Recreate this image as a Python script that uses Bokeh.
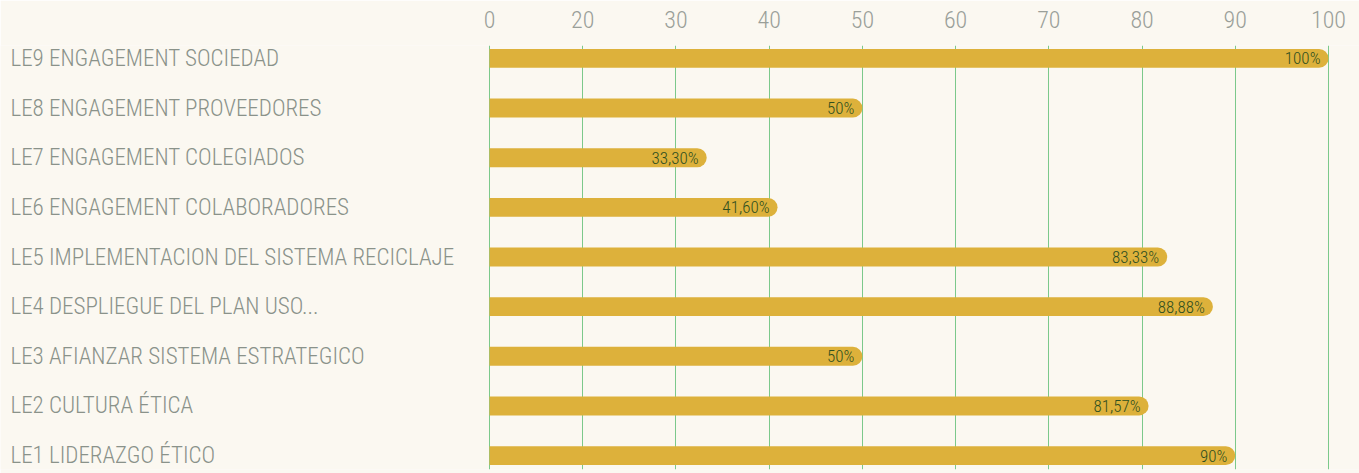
from bokeh.plotting import figure
from bokeh.models import Range1d, LinearAxis, FixedTicker, ColumnDataSource
from bokeh.core.properties import value
from bokeh.embed import file_html
from bokeh.resources import INLINE

categories = [
    "LE9 ENGAGEMENT SOCIEDAD",
    "LE8 ENGAGEMENT PROVEEDORES",
    "LE7 ENGAGEMENT COLEGIADOS",
    "LE6 ENGAGEMENT COLABORADORES",
    "LE5 IMPLEMENTACION DEL SISTEMA RECICLAJE",
    "LE4 DESPLIEGUE DEL PLAN USO...",
    "LE3 AFIANZAR SISTEMA ESTRATEGICO",
    "LE2 CULTURA ÉTICA",
    "LE1 LIDERAZGO ÉTICO",
]
bar_values = [100, 50, 33.3, 40.9, 82.7, 87.6, 50, 80.7, 90]
value_labels = ["100%", "50%", "33,30%", "41,60%", "83,33%", "88,88%", "50%", "81,57%", "90%"]
tick_values = [10, 20, 30, 40, 50, 60, 70, 80, 90, 100]
tick_labels = ["0", "20", "30", "40", "50", "60", "70", "80", "90", "100"]

W, H = 1359, 473
AXIS_START, AXIS_END = 10, 100
PX0, PX1 = 489, 1328
ppu = (PX1 - PX0) / (AXIS_END - AXIS_START)
x_lo = AXIS_START - PX0 / ppu
x_hi = AXIS_END + (W - PX1) / ppu
label_x = x_lo + 10 / ppu

n = len(categories)
ys = [n - i for i in range(n)]

BG = "#FBF8F1"
p = figure(width=W, height=H, output_backend="svg", toolbar_location=None,
           x_range=Range1d(x_lo, x_hi), y_range=Range1d(0.72, n + 0.26),
           x_axis_location=None, y_axis_location=None,
           min_border_left=0, min_border_right=0, min_border_top=45, min_border_bottom=4)
p.background_fill_color = BG
p.border_fill_color = BG
p.outline_line_color = None
p.ygrid.grid_line_color = None

ax = LinearAxis(ticker=FixedTicker(ticks=tick_values))
ax.major_label_overrides = {t: l for t, l in zip(tick_values, tick_labels)}
ax.axis_line_color = None
ax.major_tick_line_color = None
ax.minor_tick_line_color = None
ax.major_label_text_font = "Roboto Condensed Light"
ax.major_label_text_font_size = "24px"
ax.major_label_text_color = "#9A9F99"
ax.major_label_standoff = 12
p.add_layout(ax, "above")

p.xgrid.ticker = FixedTicker(ticks=tick_values)
p.xgrid.grid_line_color = "#7CC98B"
p.xgrid.grid_line_width = 1

src = ColumnDataSource(dict(y=ys, v=bar_values, lab=value_labels, cat=categories,
                            lx=[label_x] * n, left=[AXIS_START] * n))
p.hbar(y="y", left="left", right="v", height=0.38, source=src,
       fill_color="#DDB13B", line_color=None, border_radius=(0, 10, 10, 0))
p.text(x="v", y="y", text="lab", source=src, x_offset=-8,
       text_align="right", text_baseline="middle",
       text_font=value("Roboto Condensed Light"), text_font_size="17px", text_color="#2F4F1F")
p.text(x="lx", y="y", text="cat", source=src,
       text_align="left", text_baseline="middle",
       text_font=value("Roboto Condensed Light"), text_font_size="23px", text_color="#8A928A")

open("out.html", "w").write(file_html(p, INLINE))
